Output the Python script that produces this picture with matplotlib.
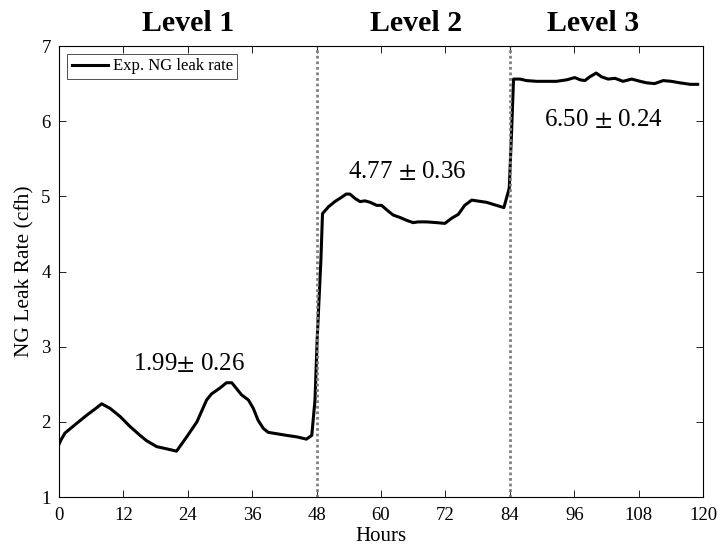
import matplotlib
matplotlib.use("Agg")
import matplotlib.pyplot as plt

plt.rcParams['font.family'] = ['Liberation Serif', 'DejaVu Serif']
plt.rcParams['mathtext.fontset'] = 'stix'

hours = [0.0, 0.3, 1.1, 3.3, 5.2, 6.7, 7.95, 9.5, 11.4, 13.2, 15.1, 16.3, 18.2, 20.1, 21.9,
         23.8, 25.7, 27.5, 28.4, 30.0, 31.2, 32.2, 34.0, 35.3, 36.2, 37.1, 38.1, 39.0,
         42.4, 44.3, 46.1, 47.1, 47.7, 48.1, 48.8, 49.1, 50.2, 51.4, 52.7, 53.5, 54.2,
         55.2, 56.1, 57.0, 58.0, 59.2, 60.1, 61.4, 62.3, 63.5, 64.8, 66.0, 66.9, 68.5,
         70.4, 71.9, 73.2, 74.4, 75.6, 76.9, 77.8, 79.7, 81.5, 82.9, 83.9, 84.3, 84.7,
         85.2, 85.9, 87.1, 89.0, 90.9, 92.7, 94.6, 96.1, 97.1, 98.0, 98.9, 100.1, 101.1,
         102.3, 103.6, 105.1, 106.7, 108.3, 109.5, 111.0, 112.6, 114.1, 115.7, 117.6, 119.0]
leak = [1.70, 1.75, 1.85, 1.98, 2.09, 2.17, 2.24, 2.18, 2.07, 1.94, 1.82, 1.75, 1.67, 1.64, 1.61,
        1.80, 2.00, 2.29, 2.37, 2.45, 2.52, 2.52, 2.36, 2.29, 2.18, 2.02, 1.91, 1.86,
        1.82, 1.80, 1.77, 1.82, 2.29, 3.09, 4.15, 4.77, 4.86, 4.93, 4.99, 5.03, 5.03,
        4.97, 4.93, 4.94, 4.92, 4.88, 4.88, 4.80, 4.75, 4.72, 4.68, 4.65, 4.66, 4.66,
        4.65, 4.64, 4.71, 4.76, 4.88, 4.95, 4.94, 4.92, 4.88, 4.85, 5.11, 5.80, 6.56,
        6.56, 6.56, 6.54, 6.53, 6.53, 6.53, 6.55, 6.58, 6.55, 6.54, 6.59, 6.64, 6.59,
        6.56, 6.57, 6.53, 6.56, 6.53, 6.51, 6.50, 6.54, 6.53, 6.51, 6.49, 6.49]

level_bounds = [48, 84]
level_names = ['Level 1', 'Level 2', 'Level 3']
level_centers = [24, 66.5, 99.5]
level_stats = ['1.99$\\pm$ 0.26', '4.77 $\\pm$ 0.36', '6.50 $\\pm$ 0.24']
stat_pos = [(24.2, 2.78), (64.9, 5.33), (101.5, 6.02)]
xticks = list(range(0, 121, 12))
yticks = [1, 2, 3, 4, 5, 6, 7]

fig = plt.figure(figsize=(7.27, 5.51), dpi=100)
ax = fig.add_axes([59/727, 1-497/551, (703-59)/727, (497-46)/551])

ax.plot(hours, leak, color='black', lw=2.2, label='Exp. NG leak rate')
for b in level_bounds:
    ax.axvline(b, color='#808080', lw=2.0, ls=(0, (1, 1)))

ax.set_xlim(0, 120)
ax.set_ylim(1, 7)
ax.set_xticks(xticks)
ax.set_yticks(yticks)
ax.tick_params(direction='in', top=True, right=True, labelsize=13.5, length=5, width=0.6, pad=6)
ax.tick_params(axis='x', pad=7.5)
for s in ax.spines.values():
    s.set_linewidth(0.8)
ax.set_xlabel('Hours', fontsize=15, labelpad=2)
ax.set_ylabel('NG Leak Rate (cfh)', fontsize=15.5, labelpad=5)

for name, c in zip(level_names, level_centers):
    ax.annotate(name, xy=(c, 1.0), xycoords=('data', 'axes fraction'),
                xytext=(0, 11), textcoords='offset points',
                ha='center', va='baseline', fontsize=21.5, fontweight='bold')
for st, (x, y) in zip(level_stats, stat_pos):
    ax.text(x, y, st, ha='center', va='center', fontsize=18)

leg = ax.legend(loc='upper left', fontsize=12, frameon=True, fancybox=False,
                edgecolor='black', handlelength=2.2, borderpad=0.25, handletextpad=0.3,
                borderaxespad=0.5)
leg.get_frame().set_linewidth(0.6)

fig.savefig('out.png', dpi=100)
